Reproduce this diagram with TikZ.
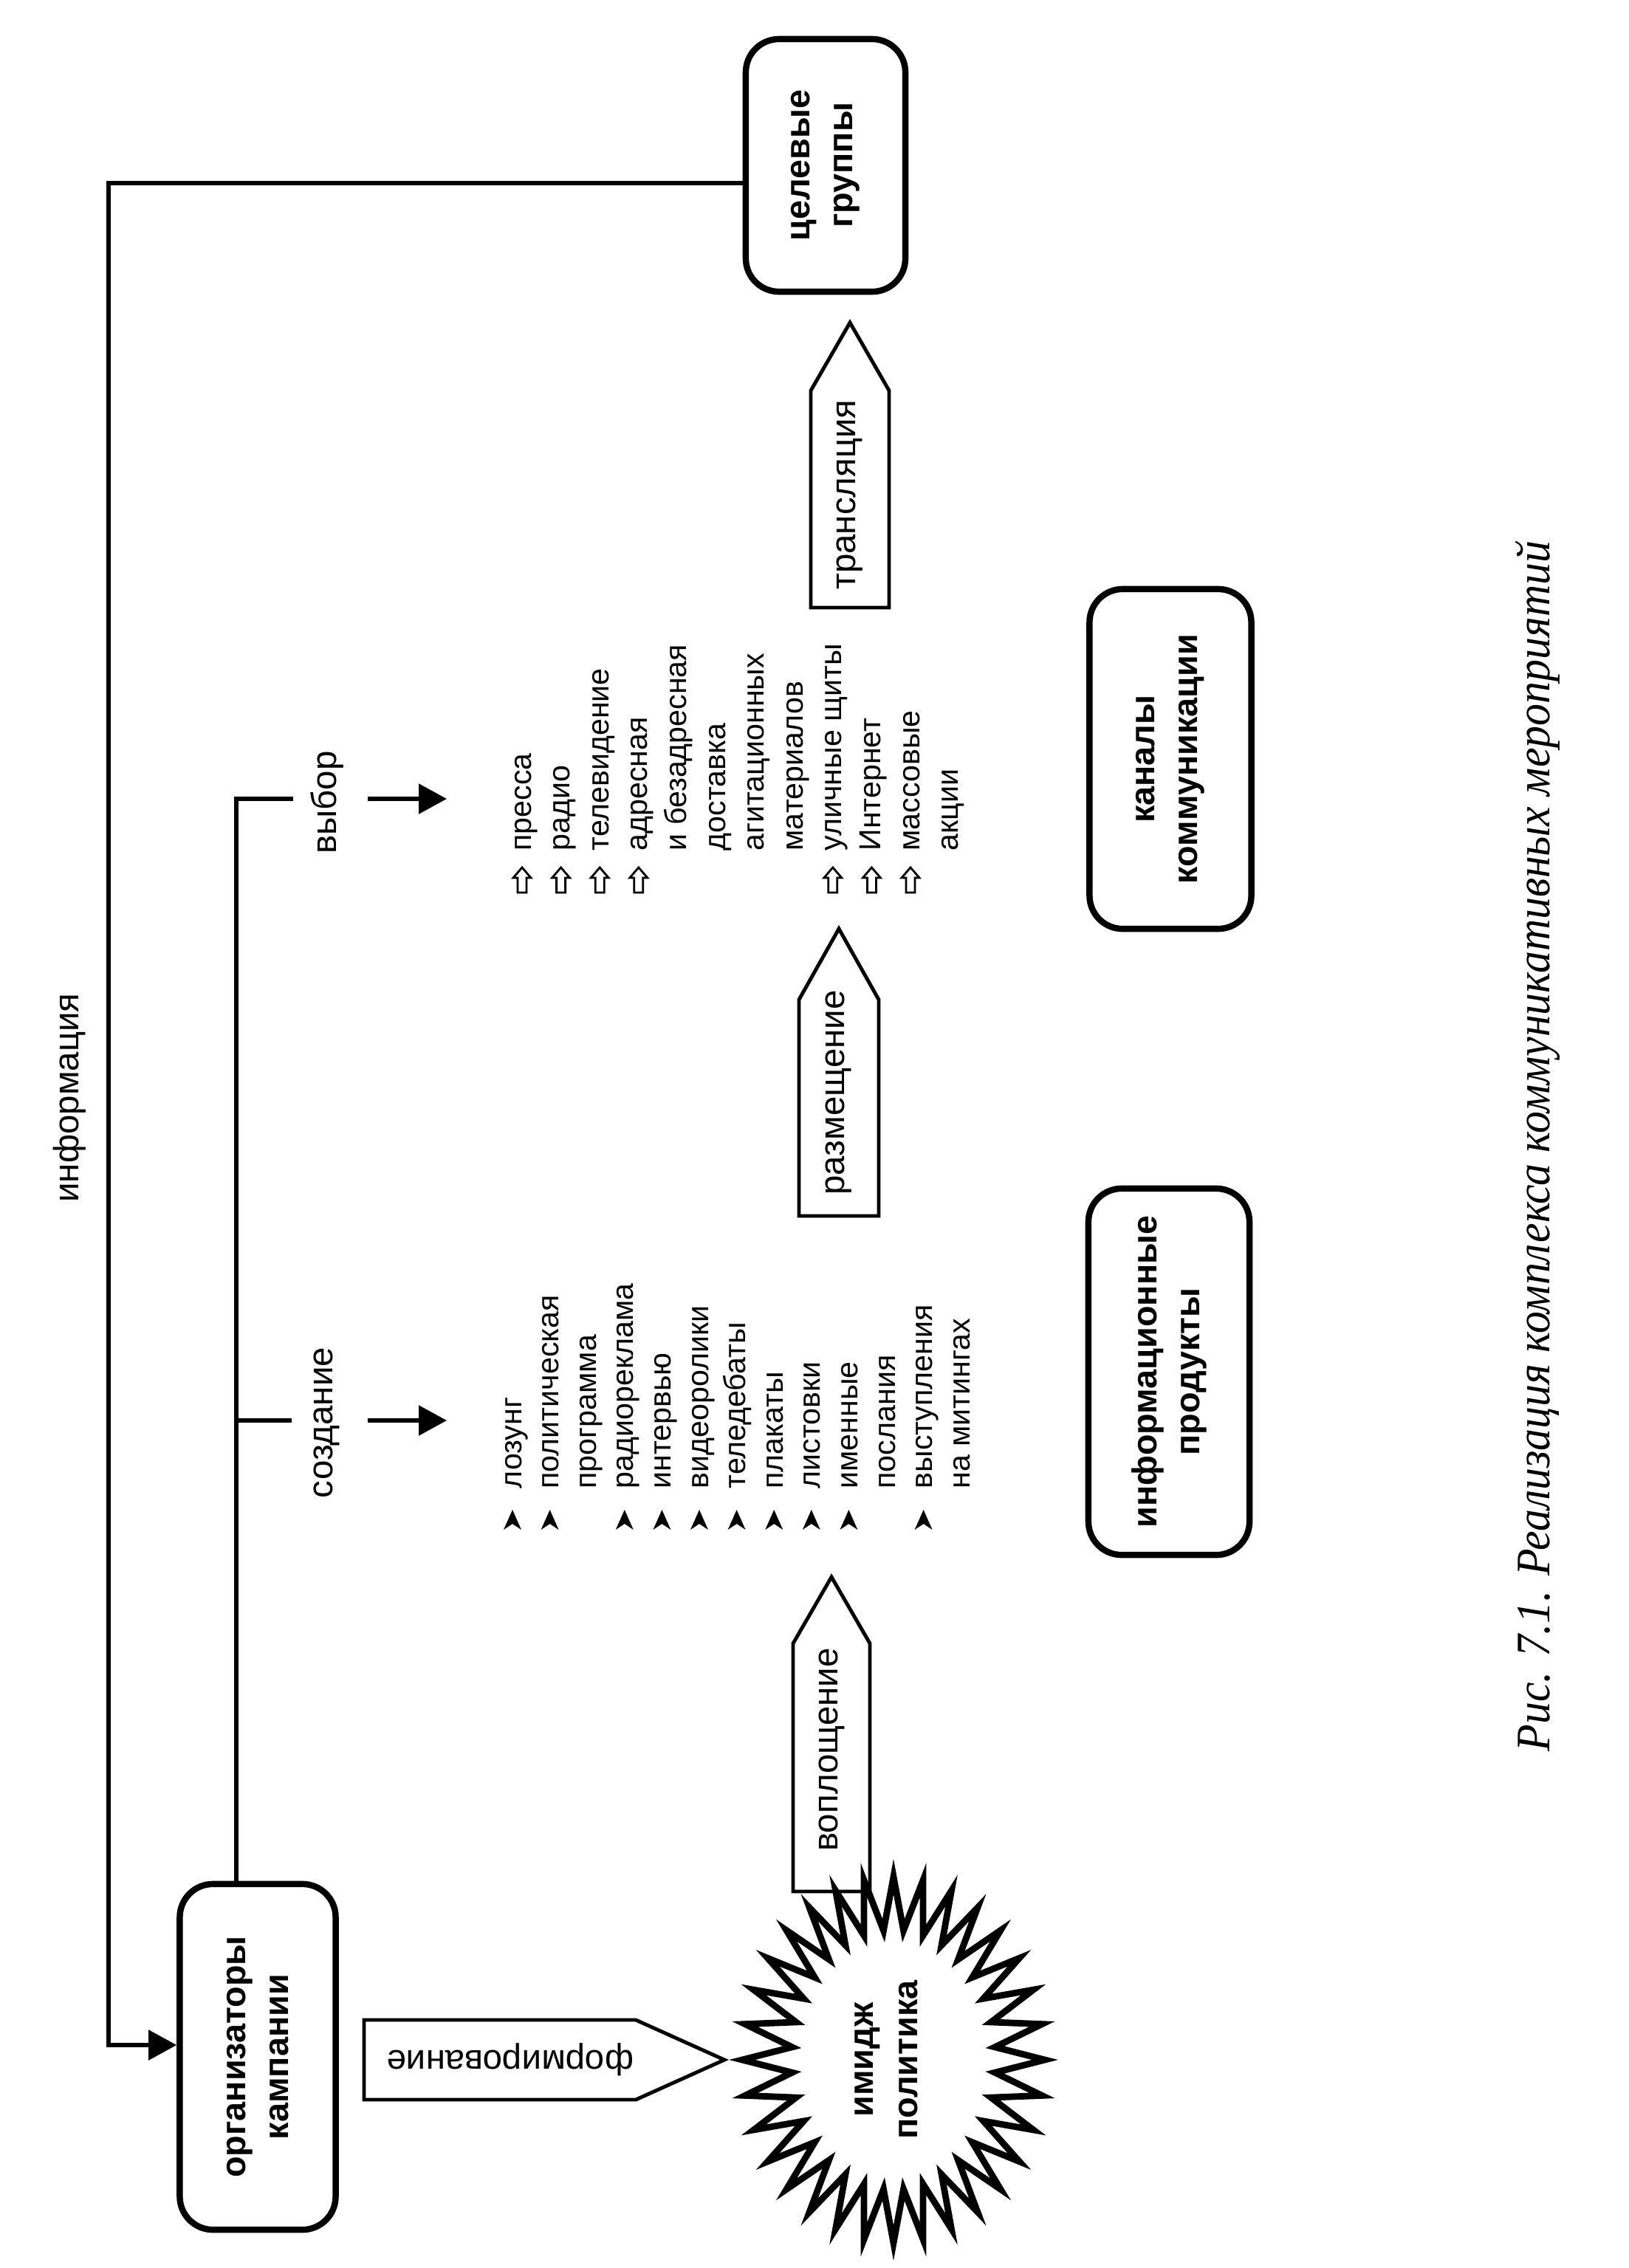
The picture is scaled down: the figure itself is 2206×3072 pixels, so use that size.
\documentclass[tikz,border=0pt]{standalone}
\usepackage{fontspec}
\setmainfont{Liberation Sans}
\newfontfamily\capfont[FakeStretch=0.92]{Liberation Serif}
\usetikzlibrary{arrows.meta}
\begin{document}
\begin{tikzpicture}[x=0.01cm,y=-0.01cm,
  box/.style={draw, line width=2.4pt, rounded corners=0.45cm, rotate=90, align=center, inner sep=0pt,
    font=\fontsize{13.3}{16.5}\selectfont\bfseries},
  lbl/.style={inner sep=0pt, font=\fontsize{13.5}{16}\selectfont},
  lblv/.style={lbl, rotate=90},
  item/.style={inner sep=0pt, rotate=90, anchor=base west, font=\fontsize{11.7}{14}\selectfont},
  conn/.style={line width=1.5pt},
  tip/.style={-{Triangle[length=10.8pt,width=11.4pt]}},
  blk/.style={draw, line width=1.4pt, line join=miter},
  hollow/.style={draw, line width=0.8pt, line join=miter},
  boldtxt/.style={inner sep=0pt, align=center, rotate=90, font=\fontsize{13.3}{17}\selectfont\bfseries}]
\useasboundingbox (0,0) rectangle (2206,3072);
\fill[white] (0,0) rectangle (2206,3072);

% boxes
\node[box, minimum width=3.42cm, minimum height=2.16cm] (target) at (1118,224) {целевые\\группы};
\node[box, minimum width=4.68cm, minimum height=2.11cm] (org) at (349,2786) {организаторы\\кампании};
\node[box, minimum width=4.96cm, minimum height=2.18cm] (prod) at (1583,1858) {информационные\\продукты};
\node[box, minimum width=4.60cm, minimum height=2.19cm] (chan) at (1585,1028) {каналы\\коммуникации};

% information loop
\coordinate (infoY) at (0,248);
\coordinate (c1) at (147,248);
\coordinate (c2) at (147,2770);
\draw[conn, tip] (target.north |- infoY) -- (c1) -- (c2) -- (org.north |- c2);
\node[lblv, anchor=base] (info) at (106,1487) {информация};

% branch
\coordinate (vyb) at (320,1082);
\coordinate (vybEnd) at (397,1082);
\coordinate (soz) at (320,1924);
\coordinate (sozEnd) at (395,1924);
\draw[conn] (org.east -| vyb) -- (vyb) -- (vybEnd);
\draw[conn] (soz) -- (sozEnd);
\node[lblv, anchor=base] (vybor) at (455,1087) {выбор};
\node[lblv, anchor=base] (sozd) at (450,1927) {создание};
\coordinate (va1) at (498,1082);
\coordinate (va2) at (605,1082);
\coordinate (sa1) at (498,1924);
\coordinate (sa2) at (605,1924);
\draw[conn, tip] (va1) -- (va2);
\draw[conn, tip] (sa1) -- (sa2);

% creation list
\foreach \t [count=\i from 0] in {лозунг,политическая,программа,радиореклама,интервью,видеоролики,теледебаты,плакаты,листовки,именные,послания,выступления,на митингах}
  \node[item] (cr\i) at ({706+50.6*\i},2017) {\t};
\foreach \i in {0,1,3,4,5,6,7,8,9,11}
  \fill ({694+50.6*\i},2045) -- ++(12,27) -- ++(-12,-8) -- ++(-12,8) -- cycle;

% channel list
\foreach \t [count=\i from 0] in {пресса,радио,телевидение,адресная,и безадресная,доставка,агитационных,материалов,уличные щиты,Интернет,массовые,акции}
  \node[item] (ch\i) at ({719+52.6*\i},1153) {\t};
\foreach \i in {0,1,2,3,8,9,10}
  \draw[hollow] ({707+52.6*\i},1175) -- ++(12,14) -- ++(-6,0) -- ++(0,20) -- ++(-12,0) -- ++(0,-20) -- ++(-6,0) -- cycle;

% block arrows
\draw[blk] (1098,823) -- (1098,529) -- (1151,437) -- (1204,529) -- (1204,823) -- cycle;
\node[lblv] (tr) at (1151,670) {трансляция};
\draw[blk] (1082,1647) -- (1082,1354) -- (1136,1258) -- (1190,1354) -- (1190,1647) -- cycle;
\node[lblv] (raz) at (1136,1480) {размещение};
\draw[blk] (1074,2562) -- (1074,2226) -- (1126,2136) -- (1178,2226) -- (1178,2562) -- cycle;
\node[lblv] (vop) at (1126,2370) {воплощение};
\draw[blk] (493,2736) -- (861,2736) -- (981,2790) -- (861,2844) -- (493,2844) -- cycle;
\node[lbl, rotate=180] (form) at (691,2790) {формирование};

% star
\draw[line width=2.5pt, line join=miter, miter limit=12] (1415,2790)
  \foreach \k in {1,...,63} { -- ({1210+(205-67*mod(\k,2))*cos(\k*5.625)},{2790+(248-72*mod(\k,2))*sin(\k*5.625)}) } -- cycle;
\node[boldtxt] (image) at (1200,2790) {имидж\\политика};

% caption
\node[inner sep=0pt, rotate=90, anchor=base west, font=\capfont\itshape\fontsize{18.5}{22}\selectfont] (cap) at (2098,2373) {Рис. 7.1. Реализация комплекса коммуникативных мероприятий};
\end{tikzpicture}
\end{document}
